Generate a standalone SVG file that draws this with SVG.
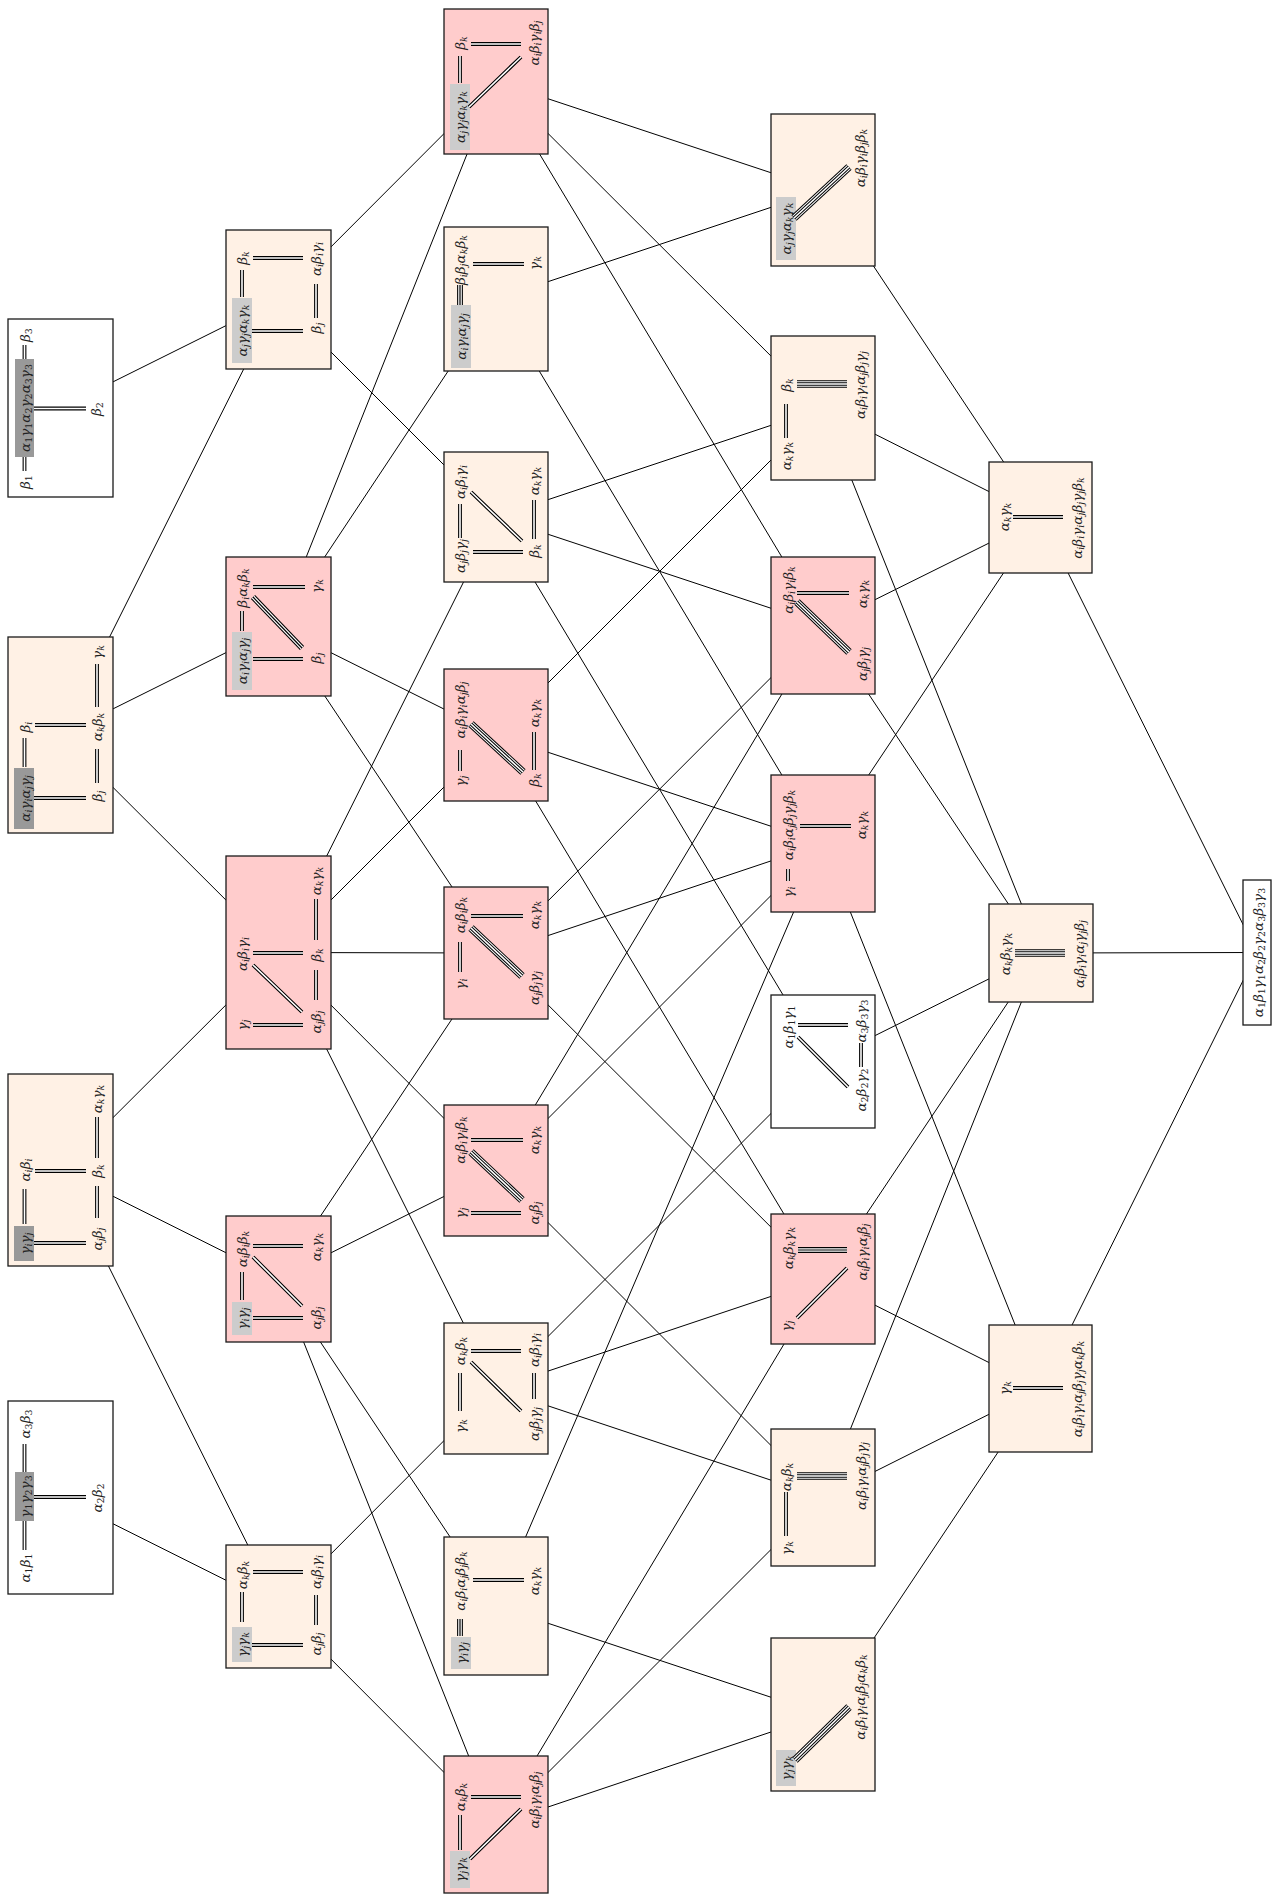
<svg xmlns="http://www.w3.org/2000/svg" width="1272" height="1899" viewBox="0 0 1272 1899">
<style>
.bg{fill:#fff}
.bx{stroke:#1a1a1a;stroke-width:1.3}
.w{fill:#fff}.c{fill:#fff1e5}.p{fill:#ffcccc}
.g1{fill:#999}.g2{fill:#ccc}
.e{fill:none;stroke:#000;stroke-width:1}
.t{font-family:"DejaVu Serif","Liberation Serif",serif;font-style:italic;font-size:13.5px;text-anchor:middle;dominant-baseline:central;fill:#222}
.s{font-size:9.5px;baseline-shift:-3px}
.n{font-style:normal}
.d1{fill:none;stroke:#000;stroke-width:3.8}
.d2{fill:none;stroke:#fff;stroke-width:1.6}
.t1{fill:none;stroke:#000;stroke-width:5.8}
.t2{fill:none;stroke:#fff;stroke-width:3.6}
.t3{fill:none;stroke:#000;stroke-width:1.2}
.q1{fill:none;stroke:#000;stroke-width:7.6}
.q2{fill:none;stroke:#fff;stroke-width:5.6}
.q3{fill:none;stroke:#000;stroke-width:3.6}
.q4{fill:none;stroke:#fff;stroke-width:1.6}
</style>
<rect class="bg" x="0" y="0" width="1272" height="1899"/>
<g id="connectors">
<path class="e" d="M60.5 408L278.5 299.5"/>
<path class="e" d="M60.5 735L278.5 299.5"/>
<path class="e" d="M60.5 735L278.5 626.5"/>
<path class="e" d="M60.5 735L278.5 952.5"/>
<path class="e" d="M60.5 1170L278.5 952.5"/>
<path class="e" d="M60.5 1170L278.5 1279"/>
<path class="e" d="M60.5 1170L278.5 1606.5"/>
<path class="e" d="M60.5 1497.5L278.5 1606.5"/>
<path class="e" d="M278.5 299.5L496 81.5"/>
<path class="e" d="M278.5 299.5L496 517"/>
<path class="e" d="M278.5 626.5L496 81.5"/>
<path class="e" d="M278.5 626.5L496 299"/>
<path class="e" d="M278.5 626.5L496 735"/>
<path class="e" d="M278.5 626.5L496 953"/>
<path class="e" d="M278.5 952.5L496 517"/>
<path class="e" d="M278.5 952.5L496 735"/>
<path class="e" d="M278.5 952.5L496 953"/>
<path class="e" d="M278.5 952.5L496 1170.5"/>
<path class="e" d="M278.5 952.5L496 1388.5"/>
<path class="e" d="M278.5 1279L496 953"/>
<path class="e" d="M278.5 1279L496 1170.5"/>
<path class="e" d="M278.5 1279L496 1606"/>
<path class="e" d="M278.5 1279L496 1824.5"/>
<path class="e" d="M278.5 1606.5L496 1388.5"/>
<path class="e" d="M278.5 1606.5L496 1824.5"/>
<path class="e" d="M496 81.5L823 190"/>
<path class="e" d="M496 81.5L823 408"/>
<path class="e" d="M496 81.5L823 625.5"/>
<path class="e" d="M496 299L823 190"/>
<path class="e" d="M496 299L823 843.5"/>
<path class="e" d="M496 517L823 408"/>
<path class="e" d="M496 517L823 625.5"/>
<path class="e" d="M496 517L823 1061.5"/>
<path class="e" d="M496 735L823 408"/>
<path class="e" d="M496 735L823 843.5"/>
<path class="e" d="M496 735L823 1279"/>
<path class="e" d="M496 953L823 625.5"/>
<path class="e" d="M496 953L823 843.5"/>
<path class="e" d="M496 953L823 1279"/>
<path class="e" d="M496 1170.5L823 625.5"/>
<path class="e" d="M496 1170.5L823 843.5"/>
<path class="e" d="M496 1170.5L823 1497.5"/>
<path class="e" d="M496 1388.5L823 1061.5"/>
<path class="e" d="M496 1388.5L823 1279"/>
<path class="e" d="M496 1388.5L823 1497.5"/>
<path class="e" d="M496 1606L823 843.5"/>
<path class="e" d="M496 1606L823 1714.5"/>
<path class="e" d="M496 1824.5L823 1279"/>
<path class="e" d="M496 1824.5L823 1497.5"/>
<path class="e" d="M496 1824.5L823 1714.5"/>
<path class="e" d="M823 190L1040.5 517.5"/>
<path class="e" d="M823 408L1040.5 517.5"/>
<path class="e" d="M823 408L1041 953"/>
<path class="e" d="M823 625.5L1040.5 517.5"/>
<path class="e" d="M823 625.5L1041 953"/>
<path class="e" d="M823 843.5L1040.5 517.5"/>
<path class="e" d="M823 843.5L1040.5 1388.5"/>
<path class="e" d="M823 1061.5L1041 953"/>
<path class="e" d="M823 1279L1041 953"/>
<path class="e" d="M823 1279L1040.5 1388.5"/>
<path class="e" d="M823 1497.5L1041 953"/>
<path class="e" d="M823 1497.5L1040.5 1388.5"/>
<path class="e" d="M823 1714.5L1040.5 1388.5"/>
<path class="e" d="M1040.5 517.5L1257 952.5"/>
<path class="e" d="M1041 953L1257 952.5"/>
<path class="e" d="M1040.5 1388.5L1257 952.5"/>
</g>

<g id="n1a">
<rect class="bx w" x="8" y="319" width="105" height="178"/>
<rect class="g1" x="15" y="359" width="19" height="98"/>
<path class="d1" d="M24.5 345V359M24.5 457V471M34 408.5H86"/><path class="d2" d="M24.5 345V359M24.5 457V471M34 408.5H86"/>
<text class="t" transform="translate(24.5 408) rotate(-90)">α<tspan class="s n">1</tspan>γ<tspan class="s n">1</tspan>α<tspan class="s n">2</tspan>γ<tspan class="s n">2</tspan>α<tspan class="s n">3</tspan>γ<tspan class="s n">3</tspan></text>
<text class="t" transform="translate(25 335) rotate(-90)">β<tspan class="s n">3</tspan></text>
<text class="t" transform="translate(25 482) rotate(-90)">β<tspan class="s n">1</tspan></text>
<text class="t" transform="translate(96 409) rotate(-90)">β<tspan class="s n">2</tspan></text>
</g>

<g id="n1b">
<rect class="bx c" x="8" y="637" width="105" height="196"/>
<rect class="g1" x="14" y="768" width="20" height="61"/>
<path class="d1" d="M24.5 738V767M97 664V707M97 749V783M35 725H86M34 798H86"/><path class="d2" d="M24.5 738V767M97 664V707M97 749V783M35 725H86M34 798H86"/>
<text class="t" transform="translate(24.5 798.5) rotate(-90)">α<tspan class="s">i</tspan>γ<tspan class="s">i</tspan>α<tspan class="s">j</tspan>γ<tspan class="s">j</tspan></text>
<text class="t" transform="translate(25 727) rotate(-90)">β<tspan class="s">i</tspan></text>
<text class="t" transform="translate(97 652) rotate(-90)">γ<tspan class="s">k</tspan></text>
<text class="t" transform="translate(97 727) rotate(-90)">α<tspan class="s">k</tspan>β<tspan class="s">k</tspan></text>
<text class="t" transform="translate(97 796) rotate(-90)">β<tspan class="s">j</tspan></text>
</g>

<g id="n1c">
<rect class="bx c" x="8" y="1074" width="105" height="192"/>
<rect class="g1" x="14" y="1226" width="20" height="35"/>
<path class="d1" d="M24.5 1189V1224M97 1117V1158M97 1186V1218M35 1171H86M34 1243H86"/><path class="d2" d="M24.5 1189V1224M97 1117V1158M97 1186V1218M35 1171H86M34 1243H86"/>
<text class="t" transform="translate(25 1170) rotate(-90)">α<tspan class="s">i</tspan>β<tspan class="s">i</tspan></text>
<text class="t" transform="translate(24.5 1243.5) rotate(-90)">γ<tspan class="s">i</tspan>γ<tspan class="s">j</tspan></text>
<text class="t" transform="translate(97 1099) rotate(-90)">α<tspan class="s">k</tspan>γ<tspan class="s">k</tspan></text>
<text class="t" transform="translate(97 1171) rotate(-90)">β<tspan class="s">k</tspan></text>
<text class="t" transform="translate(97 1239) rotate(-90)">α<tspan class="s">j</tspan>β<tspan class="s">j</tspan></text>
</g>

<g id="n1d">
<rect class="bx w" x="8" y="1401" width="105" height="193"/>
<rect class="g1" x="15" y="1472" width="19" height="49"/>
<path class="d1" d="M24.5 1444V1472M24.5 1521V1550M34 1497H86"/><path class="d2" d="M24.5 1444V1472M24.5 1521V1550M34 1497H86"/>
<text class="t" transform="translate(25 1424) rotate(-90)">α<tspan class="s n">3</tspan>β<tspan class="s n">3</tspan></text>
<text class="t" transform="translate(24.5 1496.5) rotate(-90)">γ<tspan class="s n">1</tspan>γ<tspan class="s n">2</tspan>γ<tspan class="s n">3</tspan></text>
<text class="t" transform="translate(25 1568) rotate(-90)">α<tspan class="s n">1</tspan>β<tspan class="s n">1</tspan></text>
<text class="t" transform="translate(97 1498) rotate(-90)">α<tspan class="s n">2</tspan>β<tspan class="s n">2</tspan></text>
</g>

<g id="n2a">
<rect class="bx c" x="226" y="230" width="105" height="139"/>
<rect class="g2" x="232" y="298" width="20" height="65"/>
<path class="d1" d="M242 270V297M316 284V318M253 258H303M252 331H303"/><path class="d2" d="M242 270V297M316 284V318M253 258H303M252 331H303"/>
<text class="t" transform="translate(242 258) rotate(-90)">β<tspan class="s">k</tspan></text>
<text class="t" transform="translate(242 330.5) rotate(-90)">α<tspan class="s">j</tspan>γ<tspan class="s">j</tspan>α<tspan class="s">k</tspan>γ<tspan class="s">k</tspan></text>
<text class="t" transform="translate(316 259) rotate(-90)">α<tspan class="s">i</tspan>β<tspan class="s">i</tspan>γ<tspan class="s">i</tspan></text>
<text class="t" transform="translate(316 328) rotate(-90)">β<tspan class="s">j</tspan></text>
</g>

<g id="n2b">
<rect class="bx p" x="226" y="557" width="105" height="139"/>
<rect class="g2" x="232" y="632" width="20" height="58"/>
<path class="d1" d="M242 611V631M253 587H305M253 659H303"/><path class="d2" d="M242 611V631M253 587H305M253 659H303"/>
<path class="t1" d="M253 597L302 648"/><path class="t2" d="M253 597L302 648"/><path class="t3" d="M253 597L302 648"/>
<text class="t" transform="translate(242 588) rotate(-90)">β<tspan class="s">i</tspan>α<tspan class="s">k</tspan>β<tspan class="s">k</tspan></text>
<text class="t" transform="translate(242 661) rotate(-90)">α<tspan class="s">i</tspan>γ<tspan class="s">i</tspan>α<tspan class="s">j</tspan>γ<tspan class="s">j</tspan></text>
<text class="t" transform="translate(316 586) rotate(-90)">γ<tspan class="s">k</tspan></text>
<text class="t" transform="translate(316 658) rotate(-90)">β<tspan class="s">j</tspan></text>
</g>

<g id="n2c">
<rect class="bx p" x="226" y="856" width="105" height="193"/>
<path class="d1" d="M316 899V940M316 970V1000M253 953H303M253 1025H303M253 965L302 1012"/><path class="d2" d="M316 899V940M316 970V1000M253 953H303M253 1025H303M253 965L302 1012"/>
<text class="t" transform="translate(242 954) rotate(-90)">α<tspan class="s">i</tspan>β<tspan class="s">i</tspan>γ<tspan class="s">i</tspan></text>
<text class="t" transform="translate(242 1025) rotate(-90)">γ<tspan class="s">j</tspan></text>
<text class="t" transform="translate(316 881) rotate(-90)">α<tspan class="s">k</tspan>γ<tspan class="s">k</tspan></text>
<text class="t" transform="translate(316 955) rotate(-90)">β<tspan class="s">k</tspan></text>
<text class="t" transform="translate(316 1022) rotate(-90)">α<tspan class="s">j</tspan>β<tspan class="s">j</tspan></text>
</g>

<g id="n2d">
<rect class="bx p" x="226" y="1216" width="105" height="126"/>
<rect class="g2" x="232" y="1302" width="20" height="33"/>
<path class="d1" d="M242 1272V1300M253 1246H303M253 1318H303M253 1257L302 1306"/><path class="d2" d="M242 1272V1300M253 1246H303M253 1318H303M253 1257L302 1306"/>
<text class="t" transform="translate(242 1249) rotate(-90)">α<tspan class="s">i</tspan>β<tspan class="s">i</tspan>β<tspan class="s">k</tspan></text>
<text class="t" transform="translate(242 1318.5) rotate(-90)">γ<tspan class="s">i</tspan>γ<tspan class="s">j</tspan></text>
<text class="t" transform="translate(316 1247) rotate(-90)">α<tspan class="s">k</tspan>γ<tspan class="s">k</tspan></text>
<text class="t" transform="translate(316 1318) rotate(-90)">α<tspan class="s">j</tspan>β<tspan class="s">j</tspan></text>
</g>

<g id="n2e">
<rect class="bx c" x="226" y="1545" width="105" height="123"/>
<rect class="g2" x="232" y="1627" width="20" height="35"/>
<path class="d1" d="M242 1592V1622M316 1595V1625M253 1572H303M252 1645H303"/><path class="d2" d="M242 1592V1622M316 1595V1625M253 1572H303M252 1645H303"/>
<text class="t" transform="translate(242 1575) rotate(-90)">α<tspan class="s">k</tspan>β<tspan class="s">k</tspan></text>
<text class="t" transform="translate(242 1644.5) rotate(-90)">γ<tspan class="s">j</tspan>γ<tspan class="s">k</tspan></text>
<text class="t" transform="translate(316 1572) rotate(-90)">α<tspan class="s">i</tspan>β<tspan class="s">i</tspan>γ<tspan class="s">i</tspan></text>
<text class="t" transform="translate(316 1644) rotate(-90)">α<tspan class="s">j</tspan>β<tspan class="s">j</tspan></text>
</g>

<g id="n3a">
<rect class="bx p" x="444" y="9" width="104" height="145"/>
<rect class="g2" x="450" y="84" width="20" height="66"/>
<path class="d1" d="M460 56V83M471 44H521M469 107L521 57"/><path class="d2" d="M460 56V83M471 44H521M469 107L521 57"/>
<text class="t" transform="translate(460 43) rotate(-90)">β<tspan class="s">k</tspan></text>
<text class="t" transform="translate(460 117) rotate(-90)">α<tspan class="s">j</tspan>γ<tspan class="s">j</tspan>α<tspan class="s">k</tspan>γ<tspan class="s">k</tspan></text>
<text class="t" transform="translate(534 43) rotate(-90)">α<tspan class="s">i</tspan>β<tspan class="s">i</tspan>γ<tspan class="s">i</tspan>β<tspan class="s">j</tspan></text>
</g>

<g id="n3b">
<rect class="bx c" x="444" y="227" width="104" height="144"/>
<rect class="g2" x="451" y="305" width="20" height="63"/>
<path class="t1" d="M460 285V305"/><path class="t2" d="M460 285V305"/><path class="t3" d="M460 285V305"/>
<path class="d1" d="M473 264H524"/><path class="d2" d="M473 264H524"/>
<text class="t" transform="translate(460 260) rotate(-90)">β<tspan class="s">i</tspan>β<tspan class="s">j</tspan>α<tspan class="s">k</tspan>β<tspan class="s">k</tspan></text>
<text class="t" transform="translate(461 336.5) rotate(-90)">α<tspan class="s">i</tspan>γ<tspan class="s">i</tspan>α<tspan class="s">j</tspan>γ<tspan class="s">j</tspan></text>
<text class="t" transform="translate(534 263) rotate(-90)">γ<tspan class="s">k</tspan></text>
</g>

<g id="n3c">
<rect class="bx c" x="444" y="452" width="104" height="130"/>
<path class="d1" d="M460 504V538M534 500V539M473 552H523M471 492L522 541"/><path class="d2" d="M460 504V538M534 500V539M473 552H523M471 492L522 541"/>
<text class="t" transform="translate(460 482) rotate(-90)">α<tspan class="s">i</tspan>β<tspan class="s">i</tspan>γ<tspan class="s">i</tspan></text>
<text class="t" transform="translate(460 556) rotate(-90)">α<tspan class="s">j</tspan>β<tspan class="s">j</tspan>γ<tspan class="s">j</tspan></text>
<text class="t" transform="translate(534 481) rotate(-90)">α<tspan class="s">k</tspan>γ<tspan class="s">k</tspan></text>
<text class="t" transform="translate(534 551) rotate(-90)">β<tspan class="s">k</tspan></text>
</g>

<g id="n3d">
<rect class="bx p" x="444" y="669" width="104" height="132"/>
<path class="d1" d="M460 750V771M534 732V770"/><path class="d2" d="M460 750V771M534 732V770"/>
<path class="q1" d="M471 724L523 772"/><path class="q2" d="M471 724L523 772"/><path class="q3" d="M471 724L523 772"/><path class="q4" d="M471 724L523 772"/>
<text class="t" transform="translate(460 710) rotate(-90)">α<tspan class="s">i</tspan>β<tspan class="s">i</tspan>γ<tspan class="s">i</tspan>α<tspan class="s">j</tspan>β<tspan class="s">j</tspan></text>
<text class="t" transform="translate(460 781) rotate(-90)">γ<tspan class="s">j</tspan></text>
<text class="t" transform="translate(534 713) rotate(-90)">α<tspan class="s">k</tspan>γ<tspan class="s">k</tspan></text>
<text class="t" transform="translate(534 780) rotate(-90)">β<tspan class="s">k</tspan></text>
</g>

<g id="n3e">
<rect class="bx p" x="444" y="887" width="104" height="132"/>
<path class="d1" d="M460 942V972M471 916H523"/><path class="d2" d="M460 942V972M471 916H523"/>
<path class="q1" d="M471 928L522 976"/><path class="q2" d="M471 928L522 976"/><path class="q3" d="M471 928L522 976"/><path class="q4" d="M471 928L522 976"/>
<text class="t" transform="translate(460 915) rotate(-90)">α<tspan class="s">i</tspan>β<tspan class="s">i</tspan>β<tspan class="s">k</tspan></text>
<text class="t" transform="translate(460 984) rotate(-90)">γ<tspan class="s">i</tspan></text>
<text class="t" transform="translate(534 915) rotate(-90)">α<tspan class="s">k</tspan>γ<tspan class="s">k</tspan></text>
<text class="t" transform="translate(534 988) rotate(-90)">α<tspan class="s">j</tspan>β<tspan class="s">j</tspan>γ<tspan class="s">j</tspan></text>
</g>

<g id="n3f">
<rect class="bx p" x="444" y="1105" width="104" height="131"/>
<path class="d1" d="M471 1140H523M471 1213H521"/><path class="d2" d="M471 1140H523M471 1213H521"/>
<path class="q1" d="M471 1152L522 1200"/><path class="q2" d="M471 1152L522 1200"/><path class="q3" d="M471 1152L522 1200"/><path class="q4" d="M471 1152L522 1200"/>
<text class="t" transform="translate(460 1140) rotate(-90)">α<tspan class="s">i</tspan>β<tspan class="s">i</tspan>γ<tspan class="s">i</tspan>β<tspan class="s">k</tspan></text>
<text class="t" transform="translate(460 1213) rotate(-90)">γ<tspan class="s">j</tspan></text>
<text class="t" transform="translate(534 1140) rotate(-90)">α<tspan class="s">k</tspan>γ<tspan class="s">k</tspan></text>
<text class="t" transform="translate(534 1213) rotate(-90)">α<tspan class="s">j</tspan>β<tspan class="s">j</tspan></text>
</g>

<g id="n3g">
<rect class="bx c" x="444" y="1323" width="104" height="131"/>
<path class="d1" d="M460 1373V1411M534 1373V1399M471 1351H521M471 1362L521 1411"/><path class="d2" d="M460 1373V1411M534 1373V1399M471 1351H521M471 1362L521 1411"/>
<text class="t" transform="translate(460 1351) rotate(-90)">α<tspan class="s">k</tspan>β<tspan class="s">k</tspan></text>
<text class="t" transform="translate(460 1426) rotate(-90)">γ<tspan class="s">k</tspan></text>
<text class="t" transform="translate(534 1350) rotate(-90)">α<tspan class="s">i</tspan>β<tspan class="s">i</tspan>γ<tspan class="s">i</tspan></text>
<text class="t" transform="translate(534 1424) rotate(-90)">α<tspan class="s">j</tspan>β<tspan class="s">j</tspan>γ<tspan class="s">j</tspan></text>
</g>

<g id="n3h">
<rect class="bx c" x="444" y="1537" width="104" height="138"/>
<rect class="g2" x="451" y="1637" width="20" height="32"/>
<path class="t1" d="M460 1619V1636"/><path class="t2" d="M460 1619V1636"/><path class="t3" d="M460 1619V1636"/>
<path class="d1" d="M473 1580H524"/><path class="d2" d="M473 1580H524"/>
<text class="t" transform="translate(460 1581) rotate(-90)">α<tspan class="s">i</tspan>β<tspan class="s">i</tspan>α<tspan class="s">j</tspan>β<tspan class="s">j</tspan>β<tspan class="s">k</tspan></text>
<text class="t" transform="translate(461 1653) rotate(-90)">γ<tspan class="s">i</tspan>γ<tspan class="s">j</tspan></text>
<text class="t" transform="translate(534 1581) rotate(-90)">α<tspan class="s">k</tspan>γ<tspan class="s">k</tspan></text>
</g>

<g id="n3i">
<rect class="bx p" x="444" y="1756" width="104" height="137"/>
<rect class="g2" x="450" y="1851" width="20" height="37"/>
<path class="d1" d="M460 1815V1850M471 1797H521M470 1859L521 1809"/><path class="d2" d="M460 1815V1850M471 1797H521M470 1859L521 1809"/>
<text class="t" transform="translate(460 1797) rotate(-90)">α<tspan class="s">k</tspan>β<tspan class="s">k</tspan></text>
<text class="t" transform="translate(460 1869.5) rotate(-90)">γ<tspan class="s">j</tspan>γ<tspan class="s">k</tspan></text>
<text class="t" transform="translate(534 1800) rotate(-90)">α<tspan class="s">i</tspan>β<tspan class="s">i</tspan>γ<tspan class="s">i</tspan>α<tspan class="s">j</tspan>β<tspan class="s">j</tspan></text>
</g>

<g id="n4a">
<rect class="bx c" x="771" y="114" width="104" height="152"/>
<rect class="g2" x="776" y="197" width="20" height="63"/>
<path class="q1" d="M794 218L849 167"/><path class="q2" d="M794 218L849 167"/><path class="q3" d="M794 218L849 167"/><path class="q4" d="M794 218L849 167"/>
<text class="t" transform="translate(786 228.5) rotate(-90)">α<tspan class="s">j</tspan>γ<tspan class="s">j</tspan>α<tspan class="s">k</tspan>γ<tspan class="s">k</tspan></text>
<text class="t" transform="translate(860 158) rotate(-90)">α<tspan class="s">i</tspan>β<tspan class="s">i</tspan>γ<tspan class="s">i</tspan>β<tspan class="s">j</tspan>β<tspan class="s">k</tspan></text>
</g>

<g id="n4b">
<rect class="bx c" x="771" y="336" width="104" height="144"/>
<path class="d1" d="M786 404V438"/><path class="d2" d="M786 404V438"/>
<path class="q1" d="M797 384H847"/><path class="q2" d="M797 384H847"/><path class="q3" d="M797 384H847"/><path class="q4" d="M797 384H847"/>
<text class="t" transform="translate(786 385) rotate(-90)">β<tspan class="s">k</tspan></text>
<text class="t" transform="translate(786 456) rotate(-90)">α<tspan class="s">k</tspan>γ<tspan class="s">k</tspan></text>
<text class="t" transform="translate(860 385) rotate(-90)">α<tspan class="s">i</tspan>β<tspan class="s">i</tspan>γ<tspan class="s">i</tspan>α<tspan class="s">j</tspan>β<tspan class="s">j</tspan>γ<tspan class="s">j</tspan></text>
</g>

<g id="n4c">
<rect class="bx p" x="771" y="557" width="104" height="137"/>
<path class="d1" d="M797 593H849"/><path class="d2" d="M797 593H849"/>
<path class="q1" d="M797 602L849 652"/><path class="q2" d="M797 602L849 652"/><path class="q3" d="M797 602L849 652"/><path class="q4" d="M797 602L849 652"/>
<text class="t" transform="translate(788 590) rotate(-90)">α<tspan class="s">i</tspan>β<tspan class="s">i</tspan>γ<tspan class="s">i</tspan>β<tspan class="s">k</tspan></text>
<text class="t" transform="translate(862 594) rotate(-90)">α<tspan class="s">k</tspan>γ<tspan class="s">k</tspan></text>
<text class="t" transform="translate(862 664) rotate(-90)">α<tspan class="s">j</tspan>β<tspan class="s">j</tspan>γ<tspan class="s">j</tspan></text>
</g>

<g id="n4d">
<rect class="bx p" x="771" y="775" width="104" height="137"/>
<path class="d1" d="M788 869V881M800 826H851"/><path class="d2" d="M788 869V881M800 826H851"/>
<text class="t" transform="translate(788 825) rotate(-90)">α<tspan class="s">i</tspan>β<tspan class="s">i</tspan>α<tspan class="s">j</tspan>β<tspan class="s">j</tspan>γ<tspan class="s">j</tspan>β<tspan class="s">k</tspan></text>
<text class="t" transform="translate(788 892) rotate(-90)">γ<tspan class="s">i</tspan></text>
<text class="t" transform="translate(861 825) rotate(-90)">α<tspan class="s">k</tspan>γ<tspan class="s">k</tspan></text>
</g>

<g id="n4e">
<rect class="bx w" x="771" y="995" width="104" height="133"/>
<path class="d1" d="M861 1043V1067M798 1025H848M798 1037L848 1087"/><path class="d2" d="M861 1043V1067M798 1025H848M798 1037L848 1087"/>
<text class="t" transform="translate(788 1027) rotate(-90)">α<tspan class="s n">1</tspan>β<tspan class="s n">1</tspan>γ<tspan class="s n">1</tspan></text>
<text class="t" transform="translate(861 1021) rotate(-90)">α<tspan class="s n">3</tspan>β<tspan class="s n">3</tspan>γ<tspan class="s n">3</tspan></text>
<text class="t" transform="translate(861 1090) rotate(-90)">α<tspan class="s n">2</tspan>β<tspan class="s n">2</tspan>γ<tspan class="s n">2</tspan></text>
</g>

<g id="n4f">
<rect class="bx p" x="771" y="1214" width="104" height="130"/>
<path class="t1" d="M798 1250H847"/><path class="t2" d="M798 1250H847"/><path class="t3" d="M798 1250H847"/>
<path class="d1" d="M797 1318L847 1268"/><path class="d2" d="M797 1318L847 1268"/>
<text class="t" transform="translate(788 1248) rotate(-90)">α<tspan class="s">k</tspan>β<tspan class="s">k</tspan>γ<tspan class="s">k</tspan></text>
<text class="t" transform="translate(786 1326) rotate(-90)">γ<tspan class="s">j</tspan></text>
<text class="t" transform="translate(862 1252) rotate(-90)">α<tspan class="s">i</tspan>β<tspan class="s">i</tspan>γ<tspan class="s">i</tspan>α<tspan class="s">j</tspan>β<tspan class="s">j</tspan></text>
</g>

<g id="n4g">
<rect class="bx c" x="771" y="1429" width="104" height="137"/>
<path class="d1" d="M786 1492V1536"/><path class="d2" d="M786 1492V1536"/>
<path class="q1" d="M797 1476H847"/><path class="q2" d="M797 1476H847"/><path class="q3" d="M797 1476H847"/><path class="q4" d="M797 1476H847"/>
<text class="t" transform="translate(786 1477) rotate(-90)">α<tspan class="s">k</tspan>β<tspan class="s">k</tspan></text>
<text class="t" transform="translate(786 1548) rotate(-90)">γ<tspan class="s">k</tspan></text>
<text class="t" transform="translate(861 1476) rotate(-90)">α<tspan class="s">i</tspan>β<tspan class="s">i</tspan>γ<tspan class="s">i</tspan>α<tspan class="s">j</tspan>β<tspan class="s">j</tspan>γ<tspan class="s">j</tspan></text>
</g>

<g id="n4h">
<rect class="bx c" x="771" y="1638" width="104" height="153"/>
<rect class="g2" x="776" y="1750" width="20" height="36"/>
<path class="q1" d="M795 1760L849 1707"/><path class="q2" d="M795 1760L849 1707"/><path class="q3" d="M795 1760L849 1707"/><path class="q4" d="M795 1760L849 1707"/>
<text class="t" transform="translate(786 1768) rotate(-90)">γ<tspan class="s">j</tspan>γ<tspan class="s">k</tspan></text>
<text class="t" transform="translate(860 1697) rotate(-90)">α<tspan class="s">i</tspan>β<tspan class="s">i</tspan>γ<tspan class="s">i</tspan>α<tspan class="s">j</tspan>β<tspan class="s">j</tspan>α<tspan class="s">k</tspan>β<tspan class="s">k</tspan></text>
</g>

<g id="n5a">
<rect class="bx c" x="989" y="462" width="103" height="111"/>
<path class="d1" d="M1013 517H1063"/><path class="d2" d="M1013 517H1063"/>
<text class="t" transform="translate(1004 517) rotate(-90)">α<tspan class="s">k</tspan>γ<tspan class="s">k</tspan></text>
<text class="t" transform="translate(1077 518) rotate(-90)">α<tspan class="s">i</tspan>β<tspan class="s">i</tspan>γ<tspan class="s">i</tspan>α<tspan class="s">j</tspan>β<tspan class="s">j</tspan>γ<tspan class="s">j</tspan>β<tspan class="s">k</tspan></text>
</g>

<g id="n5b">
<rect class="bx c" x="989" y="904" width="104" height="98"/>
<path class="q1" d="M1015 953H1065"/><path class="q2" d="M1015 953H1065"/><path class="q3" d="M1015 953H1065"/><path class="q4" d="M1015 953H1065"/>
<text class="t" transform="translate(1005 954) rotate(-90)">α<tspan class="s">k</tspan>β<tspan class="s">k</tspan>γ<tspan class="s">k</tspan></text>
<text class="t" transform="translate(1079 954) rotate(-90)">α<tspan class="s">i</tspan>β<tspan class="s">i</tspan>γ<tspan class="s">i</tspan>α<tspan class="s">j</tspan>γ<tspan class="s">j</tspan>β<tspan class="s">j</tspan></text>
</g>

<g id="n5c">
<rect class="bx c" x="989" y="1325" width="103" height="127"/>
<path class="d1" d="M1013 1388H1063"/><path class="d2" d="M1013 1388H1063"/>
<text class="t" transform="translate(1004 1388) rotate(-90)">γ<tspan class="s">k</tspan></text>
<text class="t" transform="translate(1077 1389) rotate(-90)">α<tspan class="s">i</tspan>β<tspan class="s">i</tspan>γ<tspan class="s">i</tspan>α<tspan class="s">j</tspan>β<tspan class="s">j</tspan>γ<tspan class="s">j</tspan>α<tspan class="s">k</tspan>β<tspan class="s">k</tspan></text>
</g>

<g id="n6">
<rect class="bx w" x="1243" y="880" width="28" height="145"/>
<text class="t" transform="translate(1258 952.5) rotate(-90)">α<tspan class="s n">1</tspan>β<tspan class="s n">1</tspan>γ<tspan class="s n">1</tspan>α<tspan class="s n">2</tspan>β<tspan class="s n">2</tspan>γ<tspan class="s n">2</tspan>α<tspan class="s n">3</tspan>β<tspan class="s n">3</tspan>γ<tspan class="s n">3</tspan></text>
</g>
</svg>
